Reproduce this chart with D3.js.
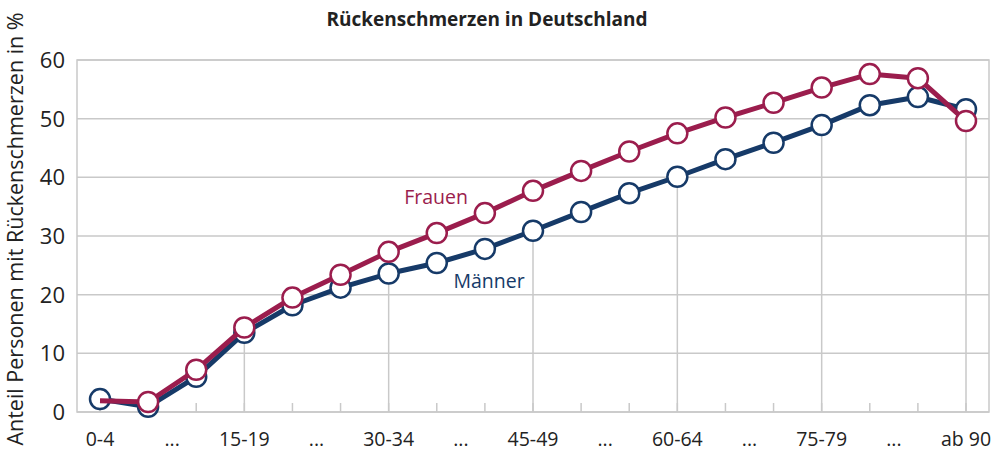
<!DOCTYPE html>
<html>
<head>
<meta charset="utf-8">
<script src="https://cdn.jsdelivr.net/npm/d3@7"></script>
<style>
  body { margin: 0; background: #fff; }
  text { font-family: "Open Sans", sans-serif; }
</style>
</head>
<body>
<svg id="chart"></svg>
<script>
const ageGroups = ["0-4", "5-9", "10-14", "15-19", "20-24", "25-29", "30-34", "35-39", "40-44",
  "45-49", "50-54", "55-59", "60-64", "65-69", "70-74", "75-79", "80-84", "85-89", "ab 90"];
const maenner = [2.2, 0.9, 6.0, 13.5, 18.2, 21.2, 23.6, 25.4, 27.8, 30.9, 34.1, 37.3, 40.1, 43.1, 45.9, 48.9, 52.3, 53.7, 51.6];
const frauen  = [1.9, 1.7, 7.2, 14.4, 19.5, 23.4, 27.3, 30.5, 33.9, 37.7, 41.1, 44.4, 47.5, 50.2, 52.7, 55.3, 57.6, 56.9, 49.6];
// axis labels sit every 1.5 categories
const tickLabels = ["0-4", "...", "15-19", "...", "30-34", "...", "45-49", "...", "60-64", "...", "75-79", "...", "ab 90"];
const yTicks = [0, 10, 20, 30, 40, 50, 60];

const W = 995, H = 452;
const margin = { top: 60, right: 6, bottom: 40, left: 77 };
const plotW = W - margin.left - margin.right;
const plotH = H - margin.top - margin.bottom;

const navy = "#163a68", crimson = "#9b1d4d", grid = "#c9c9c9";

const svg = d3.select("#chart").attr("width", W).attr("height", H);

svg.append("text")
  .attr("x", 487).attr("y", 26)
  .attr("text-anchor", "middle")
  .style("font-weight", "bold").style("font-size", "19px").attr("fill", "#222")
  .text("Rückenschmerzen in Deutschland");

svg.append("text")
  .attr("transform", `translate(23,${229}) rotate(-90)`)
  .attr("text-anchor", "middle")
  .style("font-size", "21.5px").attr("fill", "#222")
  .text("Anteil Personen mit Rückenschmerzen in %");

const g = svg.append("g").attr("transform", `translate(${margin.left},${margin.top})`);

// linear index scale so the "..." labels can sit between categories
const x = d3.scaleLinear().domain([-0.478, ageGroups.length - 1 + 0.478]).range([0, plotW]);
const y = d3.scaleLinear().domain([0, 60]).range([plotH, 0]);

// horizontal gridlines
g.selectAll(".hgrid").data(yTicks).enter().append("line")
  .attr("x1", 0).attr("x2", plotW)
  .attr("y1", d => y(d)).attr("y2", d => y(d))
  .attr("stroke", grid).attr("stroke-width", 1.5);

// plot border
g.append("rect").attr("width", plotW).attr("height", plotH)
  .attr("fill", "none").attr("stroke", grid).attr("stroke-width", 1.5);

// small ticks at every category
g.selectAll(".tick-small").data(ageGroups.map((d, i) => i)).enter().append("line")
  .attr("x1", d => x(d)).attr("x2", d => x(d))
  .attr("y1", plotH).attr("y2", plotH - 9)
  .attr("stroke", grid).attr("stroke-width", 1.5);

// drop lines at labelled categories, up to the lower series
g.selectAll(".drop").data(ageGroups.map((d, i) => i).filter(i => i % 3 === 0)).enter().append("line")
  .attr("x1", d => x(d)).attr("x2", d => x(d))
  .attr("y1", plotH).attr("y2", d => y(Math.min(maenner[d], frauen[d])))
  .attr("stroke", grid).attr("stroke-width", 1.5);

// y axis labels
g.selectAll(".ylab").data(yTicks).enter().append("text")
  .attr("x", -12).attr("y", d => y(d)).attr("dy", "0.36em")
  .attr("text-anchor", "end")
  .style("font-size", "22px").attr("fill", "#222")
  .text(d => d);

// x axis labels
g.selectAll(".xlab").data(tickLabels).enter().append("text")
  .attr("x", (d, i) => x(i * 1.5)).attr("y", plotH + 34)
  .attr("text-anchor", "middle")
  .style("font-size", "19.5px").attr("fill", "#222")
  .text(d => d);

const line = d3.line().x((d, i) => x(i)).y(d => y(d));

function drawSeries(values, color, skipFirstMarker) {
  g.append("path").datum(values)
    .attr("d", line)
    .attr("fill", "none").attr("stroke", color)
    .attr("stroke-width", 5).attr("stroke-linejoin", "round");
  g.selectAll(null).data(values.map((v, i) => ({ v, i })).filter(d => !(skipFirstMarker && d.i === 0)))
    .enter().append("circle")
    .attr("cx", d => x(d.i)).attr("cy", d => y(d.v))
    .attr("r", 10)
    .attr("fill", "#fff").attr("stroke", color).attr("stroke-width", 2.5);
}

drawSeries(maenner, navy, false);
drawSeries(frauen, crimson, true);

g.append("text").attr("x", 436 - margin.left).attr("y", 204 - margin.top)
  .attr("text-anchor", "middle").style("font-size", "19.5px").attr("fill", crimson)
  .text("Frauen");
g.append("text").attr("x", 489 - margin.left).attr("y", 288 - margin.top)
  .attr("text-anchor", "middle").style("font-size", "19.5px").attr("fill", navy)
  .text("Männer");
</script>
</body>
</html>
